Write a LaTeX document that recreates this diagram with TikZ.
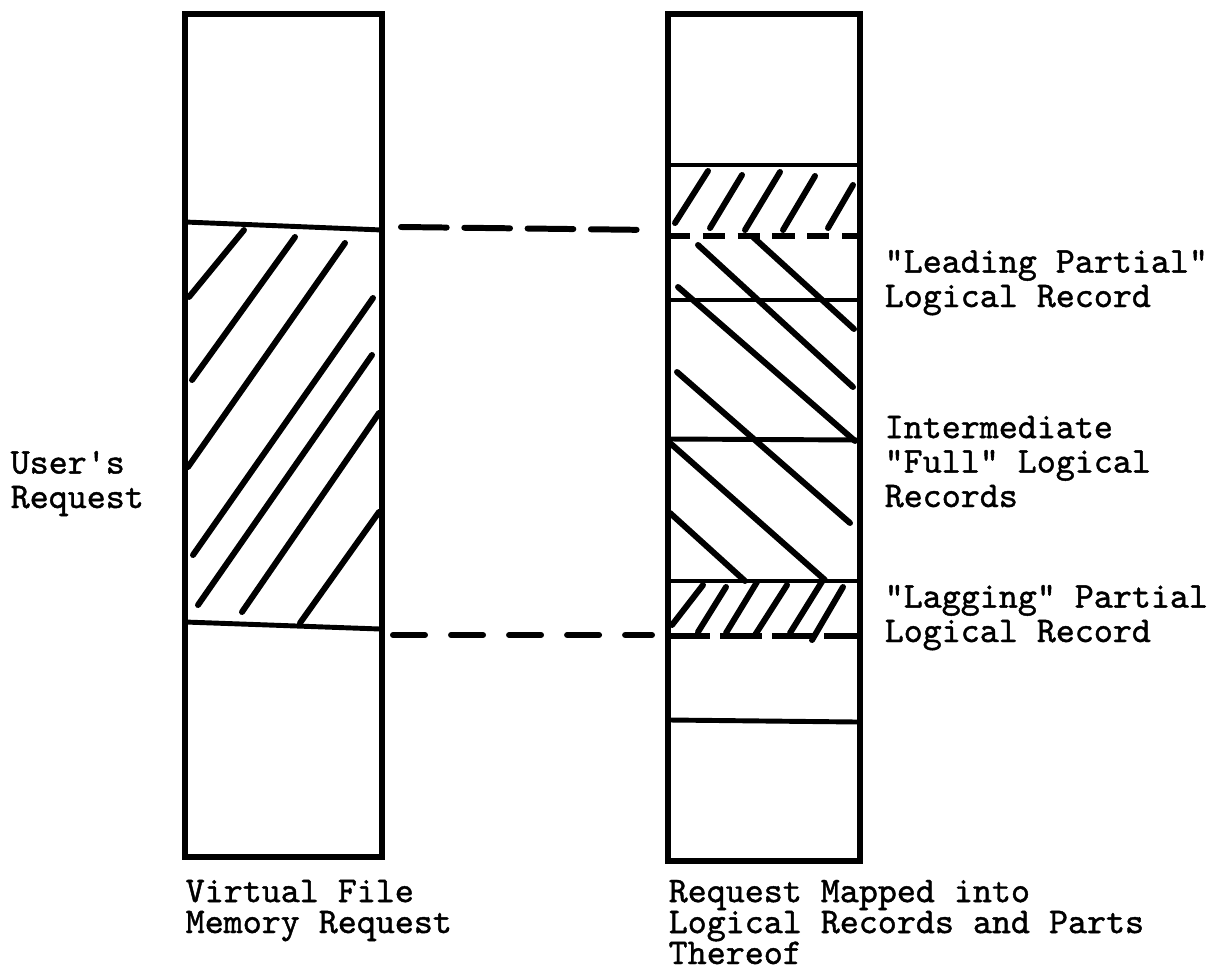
\documentclass[tikz,border=0pt]{standalone}
\usepackage{fontspec}
\setmonofont{lmmono10-regular.otf}[FakeBold=1.2]
\begin{document}
\begin{tikzpicture}[x=0.01cm, y=-0.01cm,
  column/.style={line width=1.5pt},
  band/.style={line width=1.4pt},
  hatch/.style={line width=1.7pt, line cap=round},
  cuthigh/.style={line width=1.5pt, dash pattern=on 6.3pt off 3.6pt},
  cutlow/.style={line width=1.5pt, dash pattern=on 12pt off 2.8pt},
  linktop/.style={line width=1.7pt, line cap=round, dash pattern=on 13pt off 5pt},
  linkbot/.style={line width=1.7pt, line cap=round, dash pattern=on 9.1pt off 7.4pt},
  label/.style={font=\fontsize{10.3}{9.8}\selectfont\ttfamily, align=left, anchor=base west, inner sep=0pt},
  caption/.style={label, font=\fontsize{10.3}{8.8}\selectfont\ttfamily}]
\useasboundingbox (0,0) rectangle (1228,973);

% Virtual file memory request
\coordinate (vtl) at (185,14);
\coordinate (vbr) at (382,857);
\draw[column] (vtl) rectangle (vbr);
\draw[band] (185,222) -- (382,230);
\draw[band] (185,622) -- (380,629);
\draw[hatch] (189,297) -- (244,230) (192,380) -- (295,237) (188,467) -- (345,243)
  (193,555) -- (373,298) (198,605) -- (372,355) (242,612) -- (379,413) (300,623) -- (379,512);

% Request mapped into logical records
\coordinate (mtl) at (668,14);
\coordinate (mbr) at (860,861);
\draw[column] (mtl) rectangle (mbr);
\draw[band] (668,165) -- (860,165);
\draw[cuthigh] (668,236) -- (860,236);
\draw[band] (668,300) -- (860,300);
\draw[band] (668,439) -- (860,440);
\draw[band] (668,581) -- (860,581);
\draw[cutlow] (668,636) -- (860,636);
\draw[band] (670,720) -- (857,722);
% leading partial
\draw[hatch] (675,223) -- (708,171) (710,228) -- (742,175) (745,230) -- (780,172)
  (783,230) -- (815,176) (828,228) -- (853,185);
% full records
\draw[hatch] (698,245) -- (853,387) (753,237) -- (854,329) (678,287) -- (855,441)
  (677,372) -- (850,523) (670,443) -- (825,580) (670,513) -- (745,581);
% lagging partial
\draw[hatch] (672,625) -- (703,585) (698,632) -- (726,587) (726,633) -- (757,582)
  (755,635) -- (787,585) (790,633) -- (823,580) (812,640) -- (843,587);

% Request boundaries
\coordinate (reqtop) at (401,227);
\coordinate (maptop) at (652,230);
\coordinate (reqbot) at (393,635);
\coordinate (mapbot) at (652,635);
\draw[linktop] (reqtop) -- (maptop);
\draw[linkbot] (reqbot) -- (mapbot);

% Labels (anchored at the last line)
\node[label] (user) at (10,508) {User's\\Request};
\node[label] (lead) at (884,307) {"Leading Partial"\\Logical Record};
\node[label] (full) at (884,507) {Intermediate\\"Full" Logical\\Records};
\node[label] (lag) at (884,642) {"Lagging" Partial\\Logical Record};
\node[caption] (vfm) at (185,933) {Virtual File\\Memory Request};
\node[caption] (map) at (668,964) {Request Mapped into\\Logical Records and Parts\\Thereof};
\end{tikzpicture}
\end{document}
